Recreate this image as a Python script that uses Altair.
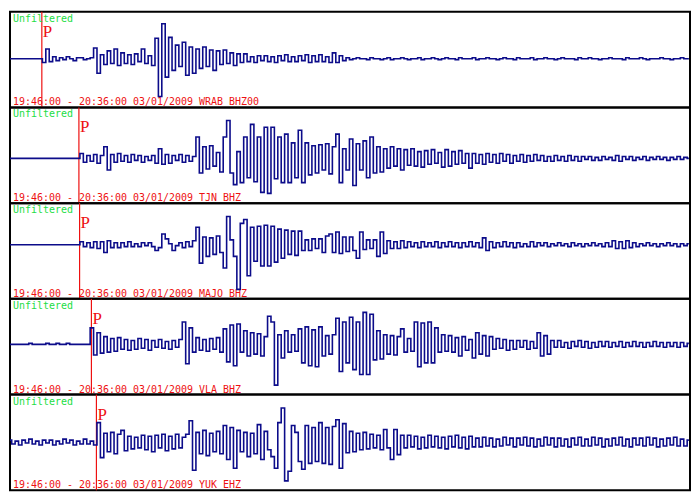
import altair as alt
import pandas as pd

# ---- data ---------------------------------------------------------------
STEP_S = 15                      # seconds between samples (50 min window)
stations = ["WRAB BHZ00", "TJN BHZ", "MAJO BHZ", "VLA BHZ", "YUK EHZ"]
p_times = [140, 303, 306, 358, 380]          # P arrival, seconds after 19:46:00
baseline = [0.9, -3.2, 6.5, 2.4, 0.4]        # trace baseline relative to panel centre
time_label = "19:46:00 - 20:36:00 03/01/2009"
filter_label = "Unfiltered"

wrab = [0, 0, 0, 0, 0, 0, 0, 0, 0, 0,
        -4, 10, -3, 2, -2, 1, -1, 2, 0, -2,
        1, 1, -1, 0, 1, 11, -15, 4, -6, 8,
        -5, 10, -7, 6, -5, 4, -6, 5, -3, 10,
        -5, 3, -7, 21, -39, 36, -19, 22, -12, 14,
        -8, 17, -17, 12, -15, 10, -10, 12, -8, 9,
        -12, 8, -6, 9, -5, 6, -7, 5, -4, 5,
        -3, 2, -4, 3, -2, 3, -3, 2, -4, 3,
        -2, 4, -3, 2, -3, 3, -2, 4, -4, 3,
        -3, 4, -3, 2, -4, 6, -4, 3, -2, 1,
        -1, 0, 1, 0, 0, -1, 1, 0, 0, -1,
        0, 1, -1, 0, 0, 1, 0, -1, 0, 0,
        1, -1, 0, 0, 1, 0, -1, 0, 1, 0,
        0, -1, 1, 0, 0, 0, 1, -1, 0, 0,
        1, 0, 0, -1, 0, 1, 0, 0, -1, 1,
        0, 0, 0, 1, -1, 0, 0, 1, 0, 0,
        -1, 0, 1, 0, 0, 0, -1, 1, 0, 0,
        1, 0, 0, -1, 0, 0, 1, 0, 0, 0,
        -1, 1, 0, 0, 0, 1, 0, -1, 0, 0,
        0, 1, 0, 0, -1, 0, 0, 1, 0, 0]

tjn = [0, 0, 0, 0, 0, 0, 0, 0, 0, 0,
       0, 0, 0, 0, 0, 0, 0, 0, 0, 0,
       0, 5, -4, 3, -3, 4, -5, 3, 12, -12,
       4, -4, 5, -3, 3, -4, 4, -2, 3, -4,
       2, -2, 3, -5, 10, -6, 4, -5, 3, -2,
       4, -4, 3, -3, 2, 22, -15, 12, -11, 13,
       -8, 6, -14, 22, 39, -15, -27, 7, -25, 22,
       -20, 35, -24, 22, -35, 32, -36, 32, -21, 22,
       -25, 25, -25, 16, -20, 29, -25, 16, -17, 13,
       -15, 14, -12, 15, -16, 12, 25, -25, 10, -12,
       20, -28, 15, -12, 18, -20, 22, -15, 12, -14,
       10, -10, 12, -8, 10, -12, 9, -7, 10, -8,
       7, -9, 8, -6, 9, -5, 6, -9, 9, -8,
       7, -6, 8, -5, 5, -10, 5, -5, 4, -6,
       5, -4, 4, -5, 5, -3, 4, -5, 3, -3,
       4, -4, 3, -3, 4, -2, 3, -3, 2, -3,
       3, -2, 2, -3, 3, -2, 2, -3, 2, -1,
       2, -2, 1, -2, 2, -1, 1, -2, 3, -3,
       2, -1, 2, -2, 1, -1, 2, -2, 1, -1,
       2, -1, 1, -2, 1, -1, 2, -1, 1, 0]

majo = [0, 0, 0, 0, 0, 0, 0, 0, 0, 0,
        0, 0, 0, 0, 0, 0, 0, 0, 0, 0,
        0, 3, -2, 2, -3, 3, -4, 3, -8, 4,
        -3, 2, -3, 2, -2, 3, -2, 1, -2, 2,
        -1, 2, -2, -6, -3, 11, 6, 1, -6, -1,
        2, -3, 3, -2, 4, 18, -19, 8, -12, 7,
        -10, 9, -8, -24, 29, 5, -12, -46, 22, 26,
        -32, 18, -17, 19, -22, 20, -22, 19, -18, 16,
        -14, 15, -10, 14, -11, 14, -6, 5, -6, 6,
        -4, 6, -8, 9, 11, -8, 13, -9, 8, -7,
        8, -6, -14, 13, -5, 5, -4, 5, -12, 13,
        -9, 4, -4, 3, -4, 4, -3, 3, -2, 2,
        -3, 3, -2, 2, -2, 3, -3, 2, -2, 3,
        -2, 2, -3, 2, -2, 3, -2, 2, -3, 7,
        -6, 3, -3, 2, -2, 3, -2, 2, -3, 2,
        -2, 1, -2, 3, -2, 2, -1, 2, -2, 1,
        -1, 2, -1, 1, -2, 2, -1, 1, -2, 1,
        -1, 2, -1, 1, -2, 2, -2, 4, -4, 3,
        -4, 4, -3, 2, -2, 1, -1, 2, -1, 1,
        -2, 1, -1, 2, -1, 1, -2, 1, -1, 1]

vla = [0, 0, 0, 0, 0, 0, 1, 0, 0, 0,
       0, 1, 0, 0, 1, 0, 0, 1, 0, 0,
       0, 0, 0, 0, 17, -11, 12, -9, 8, -8,
       6, -7, 7, -5, 5, -6, 4, -5, 6, -4,
       5, -6, 4, -3, 5, -4, 3, -5, 4, -3,
       5, 23, -20, 17, -8, 7, -6, 5, -7, 6,
       -5, 7, -8, 16, -18, 20, -22, 21, -8, 14,
       -12, 12, -10, 11, -12, 8, 29, 23, -42, 10,
       -14, 14, -8, 10, -7, 16, -19, 18, -22, 15,
       -23, 18, -12, 9, -10, 10, 27, -28, 23, -19,
       28, -26, 23, -31, 33, -31, 31, -16, 14, -15,
       10, -10, 9, -11, 8, 16, -8, 6, -7, 23,
       -23, 22, -19, 23, -19, 17, -8, 10, -7, 9,
       -8, 7, -12, 8, -6, 5, -14, 12, -10, 9,
       -12, 8, -5, 6, -4, 5, -6, 4, -5, 4,
       -3, 4, -5, 3, -4, 12, -12, 9, -10, 4,
       -3, 4, -3, 2, -4, 3, -2, 4, -3, 3,
       -4, 2, -3, 3, -2, 3, -3, 2, -2, 3,
       -3, 2, -2, 3, -2, 2, -3, 2, -2, 3,
       -2, 2, -3, 2, -2, 2, -3, 2, -2, 1]

yuk = [2, -2, 1, -3, 2, -1, 3, -2, 1, -3,
       2, -1, 2, -3, 1, -2, 3, -1, 2, -3,
       1, -2, 3, -2, 1, -3, 20, -16, 9, -10,
       10, -12, 8, 12, -9, 6, -7, 5, -6, 7,
       -8, 6, -10, 7, -6, 8, -9, 6, -7, 8,
       -6, 5, 8, 22, -29, 10, -12, 12, -14, 9,
       -10, 11, -12, 17, -18, 15, -27, 12, -10, 10,
       -15, 9, -12, 18, -18, 11, -8, -15, -27, 20,
       35, -40, -30, 17, 10, -20, -28, 17, -22, 15,
       -20, 20, -22, 15, -23, 16, 23, -27, 19, -11,
       11, -10, 9, -8, 10, -7, 8, -6, 7, -8,
       13, -6, -18, 13, -13, 7, -6, 7, -5, 6,
       -7, 5, -6, 7, -5, 6, -6, 5, -7, 6,
       -5, 7, -6, 5, -7, 6, -5, 4, -5, 5,
       -4, 4, -5, 3, -4, 5, -3, 4, -5, 4,
       -3, 5, -4, 4, -5, 3, -4, 5, -3, 4,
       -5, 4, -4, 3, -5, 4, -3, 5, -4, 3,
       -4, 5, -3, 4, -5, 3, -4, 4, -3, 5,
       -4, 3, -5, 4, -3, 4, -4, 5, -3, 4,
       -5, 3, -4, 4, -3, 5, -4, 3, -4, 2]

traces = [wrab, tjn, majo, vla, yuk]

# ---- chart --------------------------------------------------------------
W, H = 682, 96
TRACE = "#0c0c8a"
RED = "#ee1111"
GREEN = "#22dd44"

xscale = alt.Scale(domain=[0, 2990], nice=False, zero=False)
yscale = alt.Scale(domain=[-49.3, 49.3], nice=False, zero=False)

panels = []
for name, p, b, vals in zip(stations, p_times, baseline, traces):
    df = pd.DataFrame({"t": [i * STEP_S for i in range(len(vals))],
                       "v": [v + b for v in vals]})
    info = pd.DataFrame({"t": [p], "lab": ["P"], "filt": [filter_label],
                         "foot": [f"{time_label} {name}"]})

    rule = alt.Chart(info).mark_rule(color=RED, strokeWidth=1.2).encode(
        x=alt.X("t:Q", scale=xscale, axis=None))
    ptext = alt.Chart(info).mark_text(
        align="left", baseline="alphabetic", dx=1, font="Liberation Serif",
        fontSize=17, color=RED).encode(
        x=alt.X("t:Q", scale=xscale, axis=None), y=alt.value(25), text="lab:N")
    ftext = alt.Chart(info).mark_text(
        align="left", baseline="alphabetic", font="DejaVu Sans Mono",
        fontSize=10, color=GREEN).encode(
        x=alt.value(3), y=alt.value(10), text="filt:N")
    foot = alt.Chart(info).mark_text(
        align="left", baseline="alphabetic", font="DejaVu Sans Mono",
        fontSize=10, color=RED).encode(
        x=alt.value(3), y=alt.value(H - 2), text="foot:N")
    line = alt.Chart(df).mark_line(
        interpolate="step", color=TRACE, strokeWidth=1.6, clip=True).encode(
        x=alt.X("t:Q", scale=xscale, axis=None),
        y=alt.Y("v:Q", scale=yscale, axis=None))

    panels.append(alt.layer(rule, ftext, foot, ptext, line).properties(width=W, height=H))

chart = alt.vconcat(*panels, spacing=0, bounds="flush").properties(padding=1).configure_view(
    stroke="black", strokeWidth=2)

chart.save("out.html", embed_options={"renderer": "svg", "actions": False})
